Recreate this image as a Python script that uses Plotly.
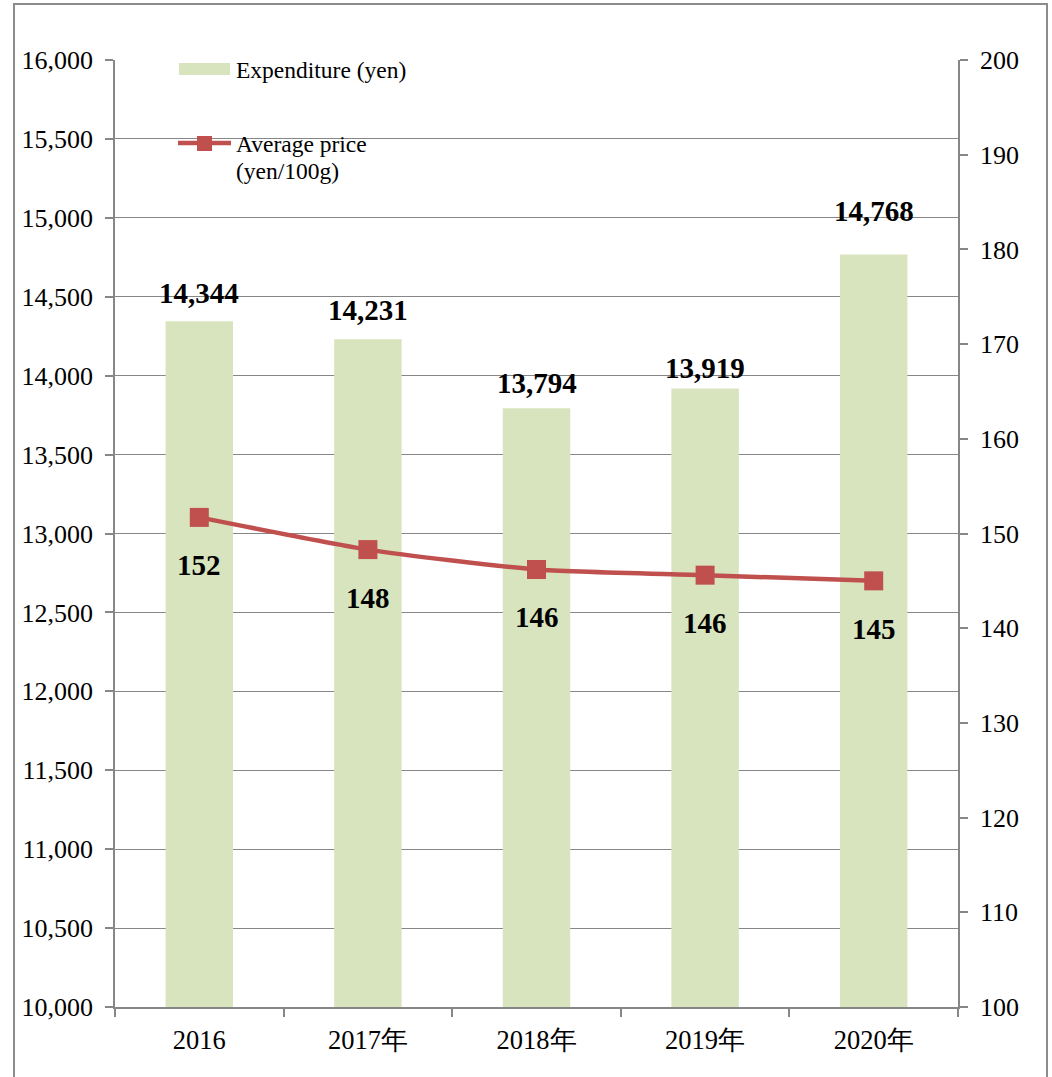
import plotly.graph_objects as go

# Household data by year
years = ["2016", "2017年", "2018年", "2019年", "2020年"]
expenditure = [14344, 14231, 13794, 13919, 14768]      # yen
avg_price = [151.7, 148.3, 146.2, 145.6, 145.0]        # yen per 100 g

# Styling
BAR_COLOR = "#D7E4BD"
LINE_COLOR = "#C0504D"
AXIS_GRAY = "#878787"
SERIF = "Liberation Serif, Times New Roman, serif"

# Page geometry (pixels) used to convert legend positions to paper coordinates
W, H = 1052, 1077
ML, MR, MT, MB = 115, 94, 60, 70
PW, PH = W - ML - MR, H - MT - MB


def px_x(px):
    return (px - ML) / PW


def px_y(py):
    return (H - MB - py) / PH


# vertical lift of each expenditure label above its bar
bar_label_lift = [28, 29, 25, 20, 43]

fig = go.Figure()

fig.add_trace(go.Bar(
    x=years, y=expenditure, width=0.4,
    marker=dict(color=BAR_COLOR, line=dict(width=0)),
    name="Expenditure (yen)", yaxis="y", showlegend=False,
    hoverinfo="skip",
))

fig.add_trace(go.Scatter(
    x=years, y=avg_price, yaxis="y2", mode="lines+markers",
    line=dict(color=LINE_COLOR, width=4.5, shape="spline", smoothing=0.6),
    marker=dict(symbol="square", size=19, color=LINE_COLOR),
    name="Average price (yen/100g)", showlegend=False,
    hoverinfo="skip",
))

label_font = dict(family=SERIF, size=29, color="black", weight="bold")
annotations = []
# category positions are given by index so "2016" is not read as a number
for i, (val, lift) in enumerate(zip(expenditure, bar_label_lift)):
    annotations.append(dict(
        x=i, y=val, xref="x", yref="y", yshift=lift,
        text=f"{val:,}", showarrow=False, font=label_font,
    ))
for i, p in enumerate(avg_price):
    annotations.append(dict(
        x=i, y=p, xref="x", yref="y2", yshift=-48,
        text=f"{round(p)}", showarrow=False, font=label_font,
    ))

# Legend entries drawn inside the plot area
legend_font = dict(family=SERIF, size=23.5, color="black")
legend_lines = [("Expenditure (yen)", 70), ("Average price", 144), ("(yen/100g)", 171)]
for txt, ypx in legend_lines:
    annotations.append(dict(
        x=px_x(234), y=px_y(ypx), xref="paper", yref="paper",
        xanchor="left", yanchor="middle", showarrow=False,
        text=txt, font=legend_font,
    ))

shapes = [
    # outer frame
    dict(type="rect", xref="paper", yref="paper",
         x0=px_x(14), x1=px_x(1047), y0=px_y(1095), y1=px_y(4),
         line=dict(color="#8C8C8C", width=2), fillcolor="rgba(0,0,0,0)"),
    # legend swatch for bars
    dict(type="rect", xref="paper", yref="paper",
         x0=px_x(179), x1=px_x(230), y0=px_y(75), y1=px_y(63),
         line=dict(width=0), fillcolor=BAR_COLOR),
    # legend line + marker
    dict(type="line", xref="paper", yref="paper",
         x0=px_x(178), x1=px_x(231), y0=px_y(143), y1=px_y(143),
         line=dict(color=LINE_COLOR, width=4.5)),
    dict(type="rect", xref="paper", yref="paper",
         x0=px_x(197), x1=px_x(212), y0=px_y(151), y1=px_y(136),
         line=dict(width=0), fillcolor=LINE_COLOR),
]

tick_font = dict(family=SERIF, size=26, color="black")

fig.update_layout(
    width=W, height=H,
    margin=dict(l=ML, r=MR, t=MT, b=MB, pad=0),
    paper_bgcolor="white", plot_bgcolor="white",
    showlegend=False,
    annotations=annotations,
    shapes=shapes,
    xaxis=dict(
        type="category", tickson="boundaries",
        ticks="outside", ticklen=8, tickcolor=AXIS_GRAY, tickwidth=1.5,
        showline=True, linecolor=AXIS_GRAY, linewidth=1.5,
        showgrid=False, tickfont=dict(family=SERIF, size=26.5, color="black"),
        ticklabelstandoff=8,
        range=[-0.5, 4.5],
    ),
    yaxis=dict(
        range=[10000, 16000], dtick=500, tickformat=",",
        ticks="outside", ticklen=8, tickcolor=AXIS_GRAY, tickwidth=1.5,
        showline=True, linecolor=AXIS_GRAY, linewidth=1.5,
        showgrid=True, gridcolor=AXIS_GRAY, gridwidth=1.3,
        zeroline=False, tickfont=tick_font, ticklabelstandoff=7,
    ),
    yaxis2=dict(
        overlaying="y", side="right", range=[100, 200], dtick=10,
        ticks="outside", ticklen=8, tickcolor=AXIS_GRAY, tickwidth=1.5,
        showline=True, linecolor=AXIS_GRAY, linewidth=1.5,
        showgrid=False, zeroline=False, tickfont=tick_font,
        ticklabelstandoff=7,
    ),
)

fig.write_html("out.html")
